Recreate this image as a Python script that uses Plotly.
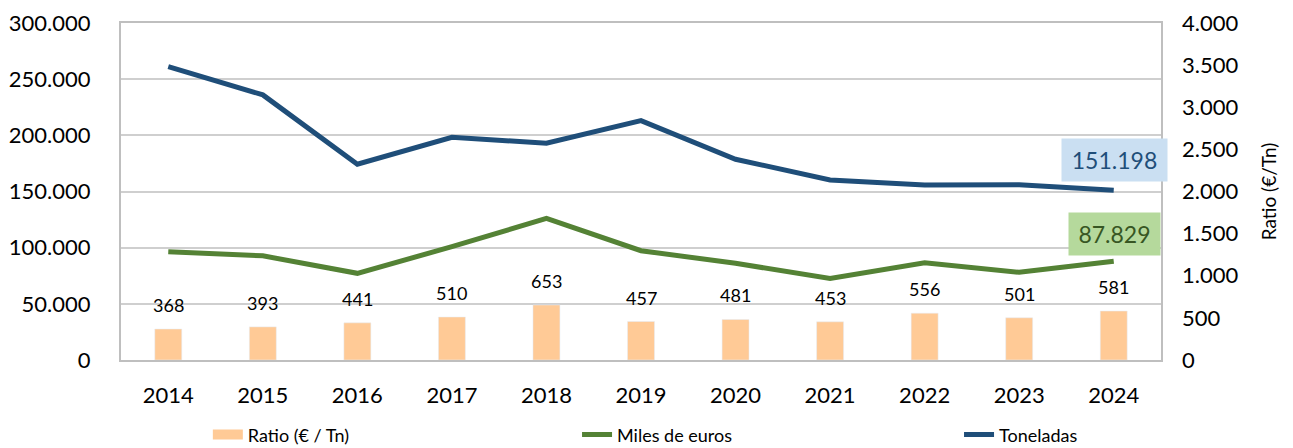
import plotly.graph_objects as go

years = [2014, 2015, 2016, 2017, 2018, 2019, 2020, 2021, 2022, 2023, 2024]
toneladas = [261240, 236000, 174300, 198300, 193000, 213100, 178700, 160300, 155800, 155900, 151198]
miles_euros = [96400, 92750, 77150, 100900, 126030, 97300, 86070, 72600, 86600, 78100, 87829]
ratio = [368, 393, 441, 510, 653, 457, 481, 453, 556, 501, 581]

FONT = "Lato"
C_TON = "#1F4E79"
C_EUR = "#548235"
C_BAR = "#FFCA96"
GRID = "#CFCFCF"
AXLINE = "#BFBFBF"


def fmt(v):
    return "{:,}".format(v).replace(",", ".")


fig = go.Figure()
fig.add_trace(go.Bar(x=years, y=ratio, name="Ratio (€ / Tn)", marker_color=C_BAR,
                     width=0.285, yaxis="y2", showlegend=False))
# legend proxy for the bar series (wide rectangle swatch)
fig.add_trace(go.Scatter(x=[None], y=[None], name="Ratio (€ / Tn)", mode="lines",
                         line=dict(color=C_BAR, width=16), legend="legend", showlegend=True))
fig.add_trace(go.Scatter(x=years, y=miles_euros, name="Miles de euros", mode="lines",
                         line=dict(color=C_EUR, width=5), legend="legend2"))
fig.add_trace(go.Scatter(x=years, y=toneladas, name="Toneladas", mode="lines",
                         line=dict(color=C_TON, width=5), legend="legend3"))

annotations = []
for yr, r in zip(years, ratio):
    annotations.append(dict(x=yr, y=r, yref="y2", xref="x", text=fmt(r), showarrow=False,
                            yanchor="middle", yshift=24,
                            font=dict(family=FONT, size=18, color="#000000")))
annotations.append(dict(x=years[-1], y=toneladas[-1], xref="x", yref="y", text=fmt(toneladas[-1]),
                        showarrow=False, yanchor="middle", yshift=30, xshift=1,
                        width=103, height=40, bgcolor="#CADFF2",
                        font=dict(family=FONT, size=23, color=C_TON)))
annotations.append(dict(x=years[-1], y=miles_euros[-1], xref="x", yref="y", text=fmt(miles_euros[-1]),
                        showarrow=False, yanchor="middle", yshift=27, xshift=1,
                        width=89, height=40, bgcolor="#B5D99C",
                        font=dict(family=FONT, size=23, color="#375623")))

leg_common = dict(orientation="h", xanchor="left", y=-0.222, yanchor="middle",
                  font=dict(family=FONT, size=18, color="#000000"), bgcolor="rgba(0,0,0,0)")

fig.update_layout(
    width=1285, height=440,
    margin=dict(l=113, r=132, t=15, b=88, autoexpand=False),
    paper_bgcolor="white", plot_bgcolor="white",
    separators=",.",
    font=dict(family=FONT, size=22, color="#000000"),
    showlegend=True,
    legend=dict(x=0.0835, **leg_common),
    legend2=dict(x=0.4385, **leg_common),
    legend3=dict(x=0.8058, **leg_common),
    annotations=annotations,
    xaxis=dict(range=[years[0] - 0.5, years[-1] + 0.5], dtick=1, tickformat="d",
               showgrid=False, showline=True, linecolor=AXLINE, linewidth=2,
               mirror=True, ticks="", ticklabelstandoff=15, zeroline=False,
               tickfont=dict(family=FONT, size=22)),
    yaxis=dict(range=[0, 300000], dtick=50000, tickformat=",d", showgrid=True, gridcolor=GRID,
               gridwidth=1.5, showline=True, linecolor=AXLINE, linewidth=2, mirror=True,
               zeroline=False, ticks="", ticklabelstandoff=24,
               tickfont=dict(family=FONT, size=22)),
    yaxis2=dict(range=[0, 4000], dtick=500, tickformat=",d", overlaying="y", side="right",
                showgrid=False, zeroline=False, ticks="", ticklabelstandoff=20,
                tickfont=dict(family=FONT, size=22),
                title=dict(text="Ratio (€/Tn)", font=dict(family=FONT, size=19), standoff=25)),
)

fig.write_html("out.html")
